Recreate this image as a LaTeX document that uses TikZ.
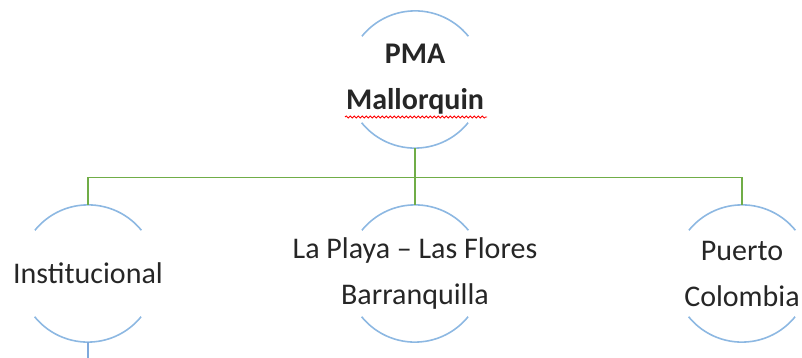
\documentclass[tikz,border=0pt]{standalone}
\usepackage{fontspec}
\setmainfont{Carlito}
\usepackage{tikz}
\usetikzlibrary{positioning,calc,decorations.pathmorphing}

\definecolor{ringblue}{HTML}{8DB8E2}
\definecolor{linkgreen}{HTML}{70AD47}
\definecolor{downblue}{HTML}{7FA9DC}

\tikzset{
	ring/.style={circle,draw=none,minimum size=137pt,inner sep=0pt},
	txt/.style={align=center,inner sep=0pt,text=black!85,font=\fontsize{30}{46}\selectfont},
	arcline/.style={draw=ringblue,line width=1.6pt},
	link/.style={draw=linkgreen,line width=1.6pt},
}

\begin{document}
\begin{tikzpicture}[x=1pt,y=1pt]
						\useasboundingbox (0,0) rectangle (802,358);

						\node[ring, label={[txt]center:{\textbf{PMA}\\\textbf{Mallorquin}}}] (PMA) at (415,278.5) {};
						\node[ring, label={[txt]center:{Institucional}}] (INST) at (88,84.5) {};
						\node[ring, label={[txt]center:{La Playa -- Las Flores\\Barranquilla}}] (PLAYA) at (415,84.5) {};
						\node[ring, label={[txt]center:{Puerto\\Colombia}}] (PUERTO) at (742,84.5) {};

						\coordinate (DOWN) at (88,0);

						\foreach \n in {PMA,INST,PLAYA,PUERTO}{
							\draw[arcline] (\n.39) arc[start angle=39,end angle=141,radius=68.5];
							\draw[arcline] (\n.219) arc[start angle=219,end angle=321,radius=68.5];
						}

						\draw[link] (PMA.south) -- ++(0,-29.5) -| (INST.north);
						\draw[link] (PMA.south) -- ++(0,-29.5) -| (PUERTO.north);
						\draw[link] (PMA.south) -- (PLAYA.north);

						\draw[draw=downblue,line width=1.6pt] (INST.south) -- (DOWN);

						\draw[red,line width=0.8pt,decorate,decoration={snake,segment length=4pt,amplitude=1.1pt}] (345,241) -- (487,241);
					\end{tikzpicture}
\end{document}
